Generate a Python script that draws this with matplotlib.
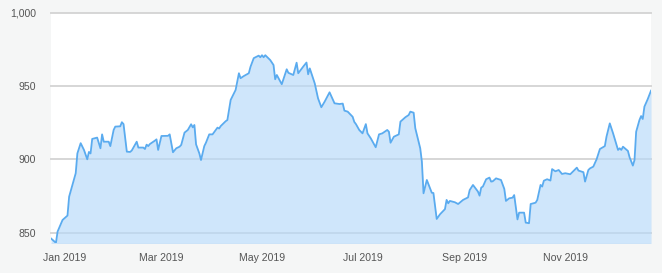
import matplotlib
matplotlib.use("Agg")
import matplotlib.pyplot as plt
import matplotlib.dates as mdates
import matplotlib.ticker as mticker
import pandas as pd

# 讀圖估計的數值
dates = [
    "2018-12-24", "2018-12-27", "2018-12-28", "2018-12-31", "2019-01-03", "2019-01-04",
    "2019-01-08", "2019-01-09", "2019-01-11", "2019-01-13", "2019-01-15", "2019-01-16",
    "2019-01-17", "2019-01-18", "2019-01-21", "2019-01-23", "2019-01-24", "2019-01-25",
    "2019-01-28", "2019-01-29", "2019-01-31", "2019-02-01", "2019-02-04", "2019-02-05",
    "2019-02-06", "2019-02-08", "2019-02-10", "2019-02-11", "2019-02-14", "2019-02-15",
    "2019-02-18", "2019-02-19", "2019-02-20", "2019-02-21", "2019-02-22", "2019-02-25",
    "2019-02-26", "2019-02-27", "2019-03-01", "2019-03-05", "2019-03-06", "2019-03-08",
    "2019-03-10", "2019-03-12", "2019-03-13", "2019-03-15", "2019-03-17", "2019-03-19",
    "2019-03-20", "2019-03-21", "2019-03-22", "2019-03-24", "2019-03-25", "2019-03-27",
    "2019-03-28", "2019-03-30", "2019-04-01", "2019-04-03", "2019-04-04", "2019-04-05",
    "2019-04-06", "2019-04-09", "2019-04-10", "2019-04-12", "2019-04-15", "2019-04-16",
    "2019-04-17", "2019-04-18", "2019-04-20", "2019-04-23", "2019-04-24", "2019-04-26",
    "2019-04-29", "2019-04-30", "2019-05-01", "2019-05-02", "2019-05-03", "2019-05-06",
    "2019-05-08", "2019-05-09", "2019-05-10", "2019-05-13", "2019-05-16", "2019-05-17",
    "2019-05-20", "2019-05-22", "2019-05-23", "2019-05-26", "2019-05-28", "2019-05-29",
    "2019-05-30", "2019-06-02", "2019-06-04", "2019-06-06", "2019-06-08", "2019-06-11",
    "2019-06-14", "2019-06-17", "2019-06-19", "2019-06-20", "2019-06-22", "2019-06-25",
    "2019-06-26", "2019-06-27", "2019-06-29", "2019-07-01", "2019-07-03", "2019-07-04",
    "2019-07-06", "2019-07-09", "2019-07-11", "2019-07-13", "2019-07-16", "2019-07-17",
    "2019-07-18", "2019-07-20", "2019-07-23", "2019-07-24", "2019-07-27", "2019-07-29",
    "2019-07-30", "2019-08-01", "2019-08-02", "2019-08-05", "2019-08-06", "2019-08-07",
    "2019-08-09", "2019-08-11", "2019-08-12", "2019-08-13", "2019-08-15", "2019-08-17",
    "2019-08-20", "2019-08-21", "2019-08-22", "2019-08-23", "2019-08-26", "2019-08-28",
    "2019-08-31", "2019-09-03", "2019-09-04", "2019-09-06", "2019-09-09", "2019-09-10",
    "2019-09-11", "2019-09-12", "2019-09-14", "2019-09-16", "2019-09-17", "2019-09-18",
    "2019-09-20", "2019-09-23", "2019-09-25", "2019-09-26", "2019-09-28", "2019-09-30",
    "2019-10-01", "2019-10-03", "2019-10-04", "2019-10-07", "2019-10-08", "2019-10-10",
    "2019-10-11", "2019-10-14", "2019-10-15", "2019-10-17", "2019-10-18", "2019-10-19",
    "2019-10-21", "2019-10-23", "2019-10-24", "2019-10-26", "2019-10-28", "2019-10-30",
    "2019-11-01", "2019-11-04", "2019-11-06", "2019-11-08", "2019-11-09", "2019-11-12",
    "2019-11-13", "2019-11-15", "2019-11-16", "2019-11-18", "2019-11-20", "2019-11-22",
    "2019-11-25", "2019-11-26", "2019-11-28", "2019-11-30", "2019-12-03", "2019-12-04",
    "2019-12-05", "2019-12-06", "2019-12-09", "2019-12-10", "2019-12-12", "2019-12-13",
    "2019-12-14", "2019-12-16", "2019-12-17", "2019-12-18", "2019-12-19", "2019-12-21",
    "2019-12-23",
]
values = [
    846.0, 843.0, 850.7, 858.6, 861.6, 874.5,
    890.5, 904.0, 911.0, 906.4, 900.0, 905.0,
    904.0, 913.9, 914.8, 907.5, 917.0, 912.0,
    912.0, 909.0, 920.0, 922.3, 922.5, 925.3,
    924.0, 905.2, 905.0, 906.0, 912.0, 908.0,
    908.0, 907.0, 910.0, 909.0, 910.4, 912.7,
    913.6, 906.4, 915.9, 916.0, 917.0, 904.8,
    907.5, 908.6, 909.8, 918.2, 920.0, 923.9,
    921.8, 923.4, 910.2, 904.0, 899.5, 909.0,
    911.3, 917.0, 917.0, 920.0, 921.6, 921.0,
    922.7, 926.0, 926.8, 940.5, 947.3, 953.0,
    958.7, 955.3, 956.8, 958.7, 963.0, 969.0,
    970.7, 969.6, 971.0, 969.6, 971.0, 967.7,
    964.3, 954.6, 957.5, 951.2, 961.4, 959.0,
    957.5, 965.9, 958.7, 963.2, 966.0, 958.0,
    962.0, 951.8, 941.6, 935.5, 939.3, 945.7,
    938.2, 937.7, 938.0, 933.2, 932.5, 929.0,
    925.5, 924.0, 920.0, 917.7, 924.0, 917.7,
    914.3, 908.2, 917.0, 917.7, 920.0, 918.8,
    911.3, 915.4, 917.0, 925.7, 928.7, 930.2,
    932.5, 931.8, 921.2, 907.5, 898.4, 876.8,
    885.9, 880.2, 877.2, 877.0, 859.3, 862.5,
    866.0, 872.3, 870.0, 871.6, 870.7, 869.5,
    872.3, 874.0, 879.0, 882.5, 878.0, 875.2,
    880.7, 881.4, 886.4, 887.5, 884.8, 885.0,
    887.0, 885.9, 879.8, 871.6, 873.4, 873.8,
    875.6, 859.0, 863.6, 863.6, 856.8, 856.4,
    869.5, 870.4, 872.3, 882.5, 881.4, 885.4,
    886.4, 885.5, 893.3, 891.8, 892.7, 890.0,
    890.5, 889.8, 892.0, 894.3, 892.3, 891.2,
    884.8, 892.7, 893.8, 895.0, 900.0, 907.0,
    909.0, 915.4, 924.5, 917.7, 906.4, 907.5,
    906.4, 908.6, 905.7, 901.4, 895.7, 899.5,
    918.8, 926.8, 929.5, 927.5, 935.9, 941.0,
    946.8,
]
y_ticks = [850, 900, 950, 1000]
x_ticks = ["2019-01-01", "2019-03-01", "2019-05-01", "2019-07-01", "2019-09-01", "2019-11-01"]

x = pd.to_datetime(dates)

plt.rcParams["font.family"] = ["Liberation Sans", "DejaVu Sans"]

fig = plt.figure(figsize=(6.62, 2.73), dpi=100)
fig.patch.set_facecolor("#f5f6f6")
ax = fig.add_axes([51 / 662, 1 - 243.3 / 273, 600 / 662, (243.3 - 12.7) / 273])
ax.set_facecolor("white")

# 面積 + 折線
ax.fill_between(x, values, 800, color="#b6d9fa", alpha=0.65, linewidth=0, zorder=2)
ax.plot(x, values, color="#5aabef", linewidth=1.3, zorder=3)

ax.set_xlim(x[0], x[-1])
ax.set_ylim(842.7, 1000)

ax.set_yticks(y_ticks)
ax.yaxis.set_major_formatter(mticker.FuncFormatter(lambda v, p: f"{int(v):,}"))
ax.set_xticks(pd.to_datetime(x_ticks))
ax.xaxis.set_major_formatter(mdates.DateFormatter("%b %Y"))

ax.grid(axis="y", color="#d6d6d6", linewidth=1.4, zorder=1)
for gl in ax.yaxis.get_gridlines():
    gl.set_clip_on(False)
ax.set_axisbelow(True)

for s in ax.spines.values():
    s.set_visible(False)
ax.tick_params(axis="both", length=0, labelsize=7.6, labelcolor="#555555")
ax.tick_params(axis="y", pad=11)
ax.tick_params(axis="x", pad=7)

fig.savefig("out.png", dpi=100, facecolor=fig.get_facecolor())
